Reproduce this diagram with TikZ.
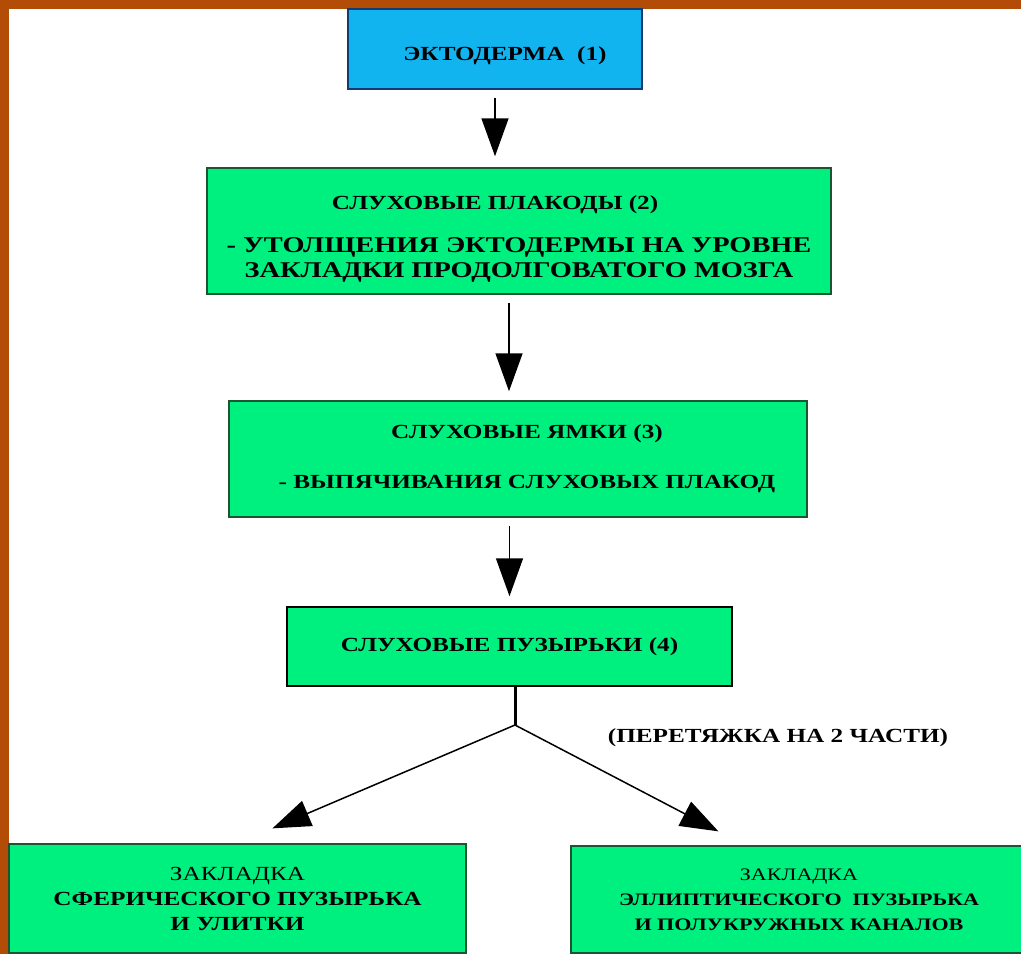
\documentclass[tikz,border=0pt]{standalone}
\usepackage{fontspec}
\setmainfont{Liberation Serif}[FakeStretch=1.26]
\usetikzlibrary{arrows.meta}

\definecolor{frame}{RGB}{178,76,6}
\definecolor{skyblue}{RGB}{18,180,240}
\definecolor{springgreen}{RGB}{0,240,128}
\definecolor{boxline}{RGB}{28,84,52}

\tikzset{
	stage/.style={shape=rectangle,draw=boxline,line width=1.5pt,fill=springgreen,align=center,text=black,font=\fontsize{20}{25}\selectfont\bfseries},
	flow/.style={line width=1.5pt,-{Triangle[length=38pt,width=27pt]}},
	note/.style={font=\fontsize{20}{24}\selectfont\bfseries}
}

\begin{document}
\begin{tikzpicture}[x=1pt,y=-1pt]
		\useasboundingbox (0,0) rectangle (1021,954);
		\fill[frame] (0,0) rectangle (1021,954);
		\fill[white] (9,9) rectangle (1021,954);
		
		\node[stage,fill=skyblue,draw=boxline!70!blue,minimum width=294pt,minimum height=80pt] (Ecto) at (495,49) {\hspace*{20pt}\rule{0pt}{28pt}ЭКТОДЕРМА~~(1)};
		\node[stage,minimum width=624pt,minimum height=126pt] (Placode) at (519,231) {\rule{0pt}{30pt}СЛУХОВЫЕ ПЛАКОДЫ (2)\hspace*{48pt}\\[18pt] {\fontsize{22.5}{24}\selectfont - УТОЛЩЕНИЯ ЭКТОДЕРМЫ НА УРОВНЕ}\\ {\fontsize{22.5}{24}\selectfont ЗАКЛАДКИ ПРОДОЛГОВАТОГО МОЗГА}};
		\node[stage,minimum width=578pt,minimum height=116pt] (Pit) at (518,459) {\hspace*{18pt}СЛУХОВЫЕ ЯМКИ (3)\\[25pt] \hspace*{18pt}- ВЫПЯЧИВАНИЯ СЛУХОВЫХ ПЛАКОД};
		\node[stage,draw=black,minimum width=445pt,minimum height=79pt] (Vesicle) at (509.5,646.5) {СЛУХОВЫЕ ПУЗЫРЬКИ (4)};
		
		\node[stage,minimum width=457pt,minimum height=109pt] (Sphere) at (237.5,898.5) {{\mdseries ЗАКЛАДКА}\\ СФЕРИЧЕСКОГО ПУЗЫРЬКА\\ И УЛИТКИ};
		\node[stage,font=\fontsize{17.5}{25}\selectfont\bfseries,minimum width=456pt,minimum height=107pt] (Canal) at (799,899.5) {{\mdseries ЗАКЛАДКА}\\ ЭЛЛИПТИЧЕСКОГО~~ПУЗЫРЬКА\\ И ПОЛУКРУЖНЫХ КАНАЛОВ};
		
		\node[note] (Constrict) at (778,738) {(ПЕРЕТЯЖКА НА 2 ЧАСТИ)};
		
		\coordinate (Split) at (515,725);
		
		\draw[flow,shorten <=8pt,shorten >=11pt] (Ecto.south) -- (Ecto.south |- Placode.north);
		\draw[flow,shorten <=8pt,shorten >=9pt] ([xshift=-10pt]Placode.south) -- ([xshift=-10pt]Placode.south |- Pit.north);
		\draw[flow,shorten <=8pt,shorten >=10pt] (Vesicle.north |- Pit.south) -- (Vesicle.north);
		
		\draw[line width=3pt] (Vesicle.south -| Split) -- (Split);
		\draw[flow,shorten >=38pt] (Split) -- (Sphere.north);
		\draw[flow,shorten >=30pt] (Split) -- ([xshift=-54pt]Canal.north);
		
	\end{tikzpicture}
\end{document}
